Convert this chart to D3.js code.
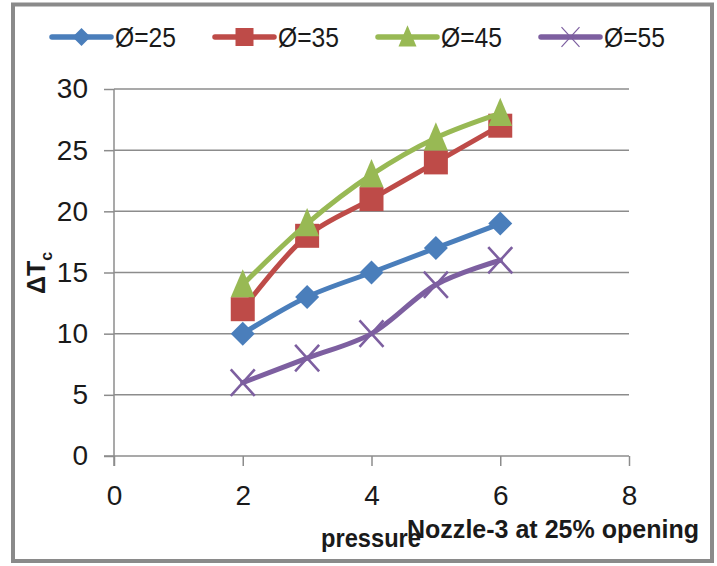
<!DOCTYPE html>
<html>
<head>
<meta charset="utf-8">
<script src="https://cdn.jsdelivr.net/npm/d3@7/dist/d3.min.js"></script>
<style>
  html, body { margin: 0; padding: 0; background: #ffffff; }
  svg { display: block; }
  text { font-family: "Liberation Sans Narrow", "Arial Narrow", "Liberation Sans", sans-serif; fill: #1a1a1a; }
</style>
</head>
<body>
<svg id="chart" width="717" height="566"></svg>
<script>
// Pressure values along the x axis
const pressure = [2, 3, 4, 5, 6];

// Temperature difference ΔTc for each nozzle angle
const seriesNames = ["Ø=25", "Ø=35", "Ø=45", "Ø=55"];
const phi25 = [10, 13, 15, 17, 19];
const phi35 = [12, 18, 21, 24, 27];
const phi45 = [14, 19, 23, 26, 28];
const phi55 = [6, 8, 10, 14, 16];

const xTicks = [0, 2, 4, 6, 8];
const yTicks = [0, 5, 10, 15, 20, 25, 30];

const colors = ["#4a7ebb", "#be4b48", "#98b954", "#7d5fa0"];
const shapes = ["diamond", "square", "triangle", "cross"];
const allSeries = [phi25, phi35, phi45, phi55];

const svg = d3.select("#chart");

const x = d3.scaleLinear().domain([0, 8]).range([114, 629]);
const y = d3.scaleLinear().domain([0, 30]).range([456, 89]);

// Outer frame
svg.append("rect")
  .attr("x", 13).attr("y", 4.5).attr("width", 699).attr("height", 556.5)
  .attr("fill", "#ffffff").attr("stroke", "#8a8a8a").attr("stroke-width", 4);

// Horizontal gridlines
svg.append("g")
  .selectAll("line").data(yTicks.slice(1)).join("line")
  .attr("x1", x(0)).attr("x2", x(8))
  .attr("y1", d => y(d)).attr("y2", d => y(d))
  .attr("stroke", "#8c8c8c").attr("stroke-width", 1.5);

// Axes
const yAxis = svg.append("g")
  .attr("transform", `translate(${x(0)},0)`)
  .call(d3.axisLeft(y).tickValues(yTicks).tickSize(10).tickPadding(16));
const xAxis = svg.append("g")
  .attr("transform", `translate(0,${y(0)})`)
  .call(d3.axisBottom(x).tickValues(xTicks).tickSize(10).tickPadding(19));

[yAxis, xAxis].forEach(g => {
  g.select(".domain").attr("stroke", "#8c8c8c").attr("stroke-width", 1.5);
  g.selectAll(".tick line").attr("stroke", "#8c8c8c").attr("stroke-width", 1.5);
  g.selectAll(".tick text")
    .style("font-family", "'Liberation Sans Narrow', 'Arial Narrow', 'Liberation Sans', sans-serif")
    .style("font-size", "28px").attr("fill", "#1a1a1a");
});
// y axis line continues below the baseline, x axis starts at the tick's left end
yAxis.select(".domain").attr("d", `M0,${y(30)}V${y(0) + 10}`);
xAxis.select(".domain").attr("d", `M${x(0) - 10},0H${x(8)}`);

// Marker shapes
function markerPath(shape, s) {
  const h = s / 2;
  switch (shape) {
    case "diamond": return `M0,${-h}L${h},0L0,${h}L${-h},0Z`;
    case "square": return `M${-h},${-h}H${h}V${h}H${-h}Z`;
    case "triangle": return `M0,${-h * 1.3}L${h},${h * 1.05}L${-h},${h * 1.05}Z`;
    case "cross": return `M${-h},${-h * 1.1}L${h},${h * 1.1}M${h},${-h * 1.1}L${-h},${h * 1.1}`;
  }
}

function drawMarker(g, shape, color, s, sw) {
  const p = g.append("path").attr("d", markerPath(shape, s));
  if (shape === "cross") {
    p.attr("fill", "none").attr("stroke", color).attr("stroke-width", sw);
  } else {
    p.attr("fill", color);
  }
}

const line = d3.line()
  .x((d, i) => x(pressure[i]))
  .y(d => y(d))
  .curve(d3.curveCatmullRom.alpha(0.5));

allSeries.forEach((vals, k) => {
  const g = svg.append("g");
  g.append("path").datum(vals)
    .attr("d", line)
    .attr("fill", "none").attr("stroke", colors[k])
    .attr("stroke-width", 5).attr("stroke-linejoin", "round").attr("stroke-linecap", "round");
  vals.forEach((v, i) => {
    const m = g.append("g").attr("transform", `translate(${x(pressure[i])},${y(v)})`);
    drawMarker(m, shapes[k], colors[k], 24, 2.6);
  });
});

// Legend
const legendX = [52, 215, 378, 541];
const legend = svg.append("g");
seriesNames.forEach((name, k) => {
  const g = legend.append("g").attr("transform", `translate(${legendX[k]},37)`);
  g.append("line").attr("x1", 0).attr("x2", 59).attr("y1", 0).attr("y2", 0)
    .attr("stroke", colors[k]).attr("stroke-width", 5.5).attr("stroke-linecap", "round");
  const m = g.append("g").attr("transform", "translate(29.5,0)");
  drawMarker(m, shapes[k], colors[k], 18, 1.2);
  g.append("text").attr("x", 63).attr("y", 10)
    .attr("textLength", 61).attr("lengthAdjust", "spacingAndGlyphs")
    .style("font-size", "27px").text(name);
});

// Axis titles
const yTitle = svg.append("text")
  .attr("transform", "translate(45,273) rotate(-90)")
  .attr("text-anchor", "middle")
  .style("font-family", "'Liberation Sans', sans-serif")
  .style("font-weight", "bold").style("font-size", "25px");
yTitle.append("tspan").text("ΔT");
yTitle.append("tspan").attr("dy", 7).style("font-size", "16px").text("c");

svg.append("text").attr("x", 321).attr("y", 547)
  .attr("textLength", 100).attr("lengthAdjust", "spacingAndGlyphs")
  .style("font-weight", "bold").style("font-size", "26px").text("pressure");
svg.append("text").attr("x", 407).attr("y", 538)
  .attr("textLength", 292).attr("lengthAdjust", "spacingAndGlyphs")
  .style("font-weight", "bold").style("font-size", "25px").text("Nozzle-3 at 25% opening");
</script>
</body>
</html>
